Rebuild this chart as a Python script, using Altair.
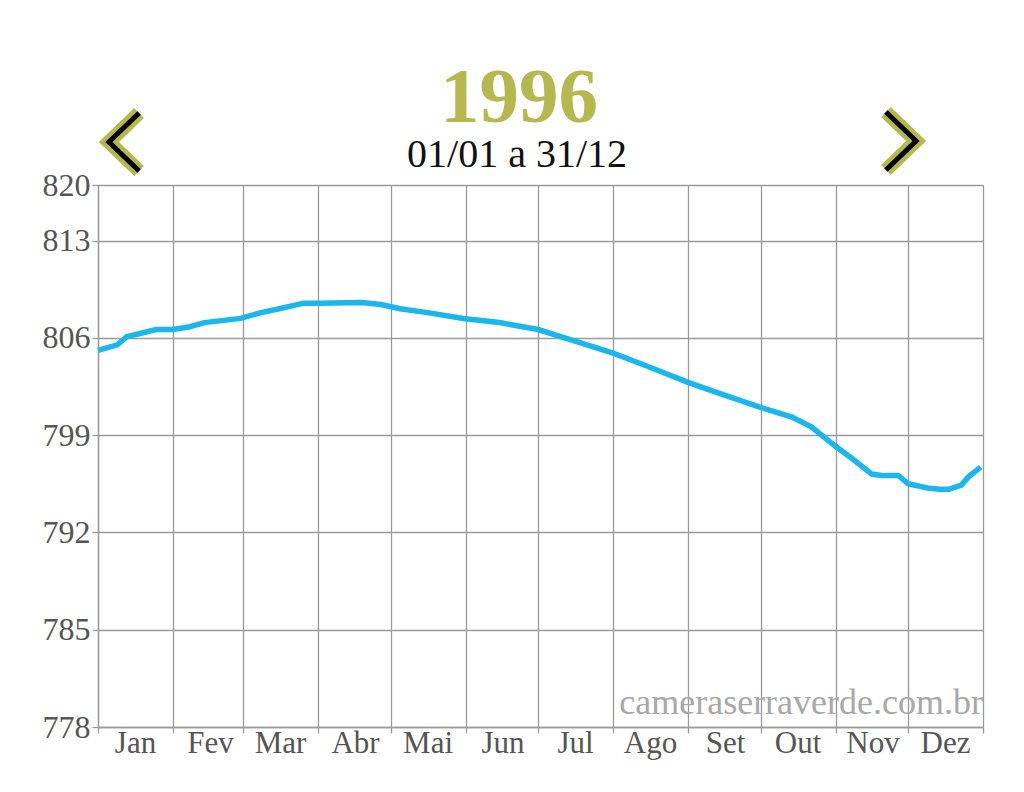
import altair as alt
import pandas as pd

# ---- data ----
dates = [
    "1996-01-01", "1996-01-09", "1996-01-13", "1996-01-18", "1996-01-25",
    "1996-02-01", "1996-02-08", "1996-02-14", "1996-02-29", "1996-03-08",
    "1996-03-16", "1996-03-26", "1996-04-01", "1996-04-19", "1996-04-27",
    "1996-05-05", "1996-05-17", "1996-05-31", "1996-06-15", "1996-07-01",
    "1996-07-14", "1996-08-01", "1996-08-16", "1996-09-01", "1996-09-14",
    "1996-10-01", "1996-10-14", "1996-10-22", "1996-11-01", "1996-11-08",
    "1996-11-16", "1996-11-20", "1996-11-27", "1996-12-01", "1996-12-09",
    "1996-12-14", "1996-12-18", "1996-12-23", "1996-12-26", "1996-12-31",
]
levels = [
    805.1, 805.5, 806.1, 806.3, 806.6,
    806.6, 806.8, 807.1, 807.4, 807.8,
    808.1, 808.5, 808.5, 808.55, 808.4,
    808.1, 807.8, 807.4, 807.1, 806.6,
    805.9, 804.9, 803.9, 802.8, 802.0,
    801.0, 800.3, 799.6, 798.2, 797.3,
    796.2, 796.1, 796.1, 795.5, 795.2,
    795.1, 795.1, 795.4, 796.0, 796.7,
]
month_names = ["Jan", "Fev", "Mar", "Abr", "Mai", "Jun",
               "Jul", "Ago", "Set", "Out", "Nov", "Dez"]
y_ticks = [778, 785, 792, 799, 806, 813, 817]
top_label = "820"
title_text = "1996"
subtitle_text = "01/01 a 31/12"
watermark = "cameraserraverde.com.br"

df = pd.DataFrame({"date": [d + "T00:00:00" for d in dates], "level": levels})

FONT = "Liberation Serif"
OLIVE = "#b4b84f"
GRID = "#9a9a9a"
W, H = 885, 542

month_js = "[" + ",".join("'%s'" % m for m in month_names) + "]"
x_values = [alt.DateTime(year=1996, month=m, date=1) for m in range(1, 13)] + [
    alt.DateTime(year=1997, month=1, date=1)
]

x_enc = alt.X(
    "date:T",
    scale=alt.Scale(
        domain=[alt.DateTime(year=1996, month=1, date=1),
                alt.DateTime(year=1997, month=1, date=1)],
        nice=False,
    ),
    axis=alt.Axis(
        values=x_values,
        title=None,
        labelExpr="year(datum.value) > 1996 ? '' : " + month_js + "[month(datum.value)]",
        labelOffset=37,
        labelAlign="center",
        labelBaseline="alphabetic",
        labelPadding=19,
        labelFont=FONT,
        labelFontSize=31,
        labelColor="#555555",
        tickSize=6,
        tickColor=GRID,
        tickWidth=1.3,
        grid=True,
        gridColor=GRID,
        gridWidth=1.3,
        domainColor=GRID,
        domainWidth=1.3,
        labelFlush=False,
        labelOverlap=False,
    ),
)
y_enc = alt.Y(
    "level:Q",
    scale=alt.Scale(domain=[778, 817], nice=False, zero=False),
    axis=alt.Axis(
        values=y_ticks,
        title=None,
        labelExpr="datum.value == 817 ? '" + top_label + "' : datum.label",
        format="d",
        labelFont=FONT,
        labelFontSize=32,
        labelColor="#555555",
        labelPadding=2,
        tickSize=6,
        tickColor=GRID,
        tickWidth=1.3,
        grid=True,
        gridColor=GRID,
        gridWidth=1.3,
        domainColor=GRID,
        domainWidth=1.3,
        labelOverlap=False,
    ),
)

line = alt.Chart(df).mark_line(color="#1ab6ec", strokeWidth=5.5).encode(x=x_enc, y=y_enc)

title = alt.Chart(pd.DataFrame({"t": [title_text]})).mark_text(
    font=FONT, fontSize=79, fontWeight="bold", color=OLIVE,
    align="center", baseline="alphabetic",
).encode(x=alt.value(421), y=alt.value(-63), text="t:N")

subtitle = alt.Chart(pd.DataFrame({"t": [subtitle_text]})).mark_text(
    font=FONT, fontSize=40, color="#111111",
    align="center", baseline="alphabetic",
).encode(x=alt.value(419), y=alt.value(-18), text="t:N")

wm = alt.Chart(pd.DataFrame({"t": [watermark]})).mark_text(
    font=FONT, fontSize=36, color="#a8a8a8",
    align="right", baseline="alphabetic",
).encode(x=alt.value(W), y=alt.value(529), text="t:N")

left_path = "M 0.52 -1 L -0.52 0 L 0.52 1"
right_path = "M -0.52 -1 L 0.52 0 L -0.52 1"


def chevron(path, px, py, color, sw):
    return alt.Chart(pd.DataFrame({"k": [0]})).mark_point(
        shape=path, size=3364, filled=False, color=color, stroke=color,
        strokeWidth=sw, strokeJoin="miter", strokeCap="butt", opacity=1,
    ).encode(x=alt.value(px), y=alt.value(py))


arrows = [
    chevron(left_path, 26, -43, OLIVE, 14),
    chevron(left_path, 26, -43, "#000000", 5),
    chevron(right_path, 803, -44, OLIVE, 14),
    chevron(right_path, 803, -44, "#000000", 5),
]

chart = alt.layer(line, title, subtitle, wm, *arrows).properties(
    width=W,
    height=H,
    autosize=alt.AutoSizeParams(type="none"),
    padding={"left": 90, "top": 177, "right": 33, "bottom": 50},
).configure_view(stroke=GRID, strokeWidth=1.3).configure(background="white")

chart.save("out.html", embed_options={"renderer": "svg", "actions": False})
